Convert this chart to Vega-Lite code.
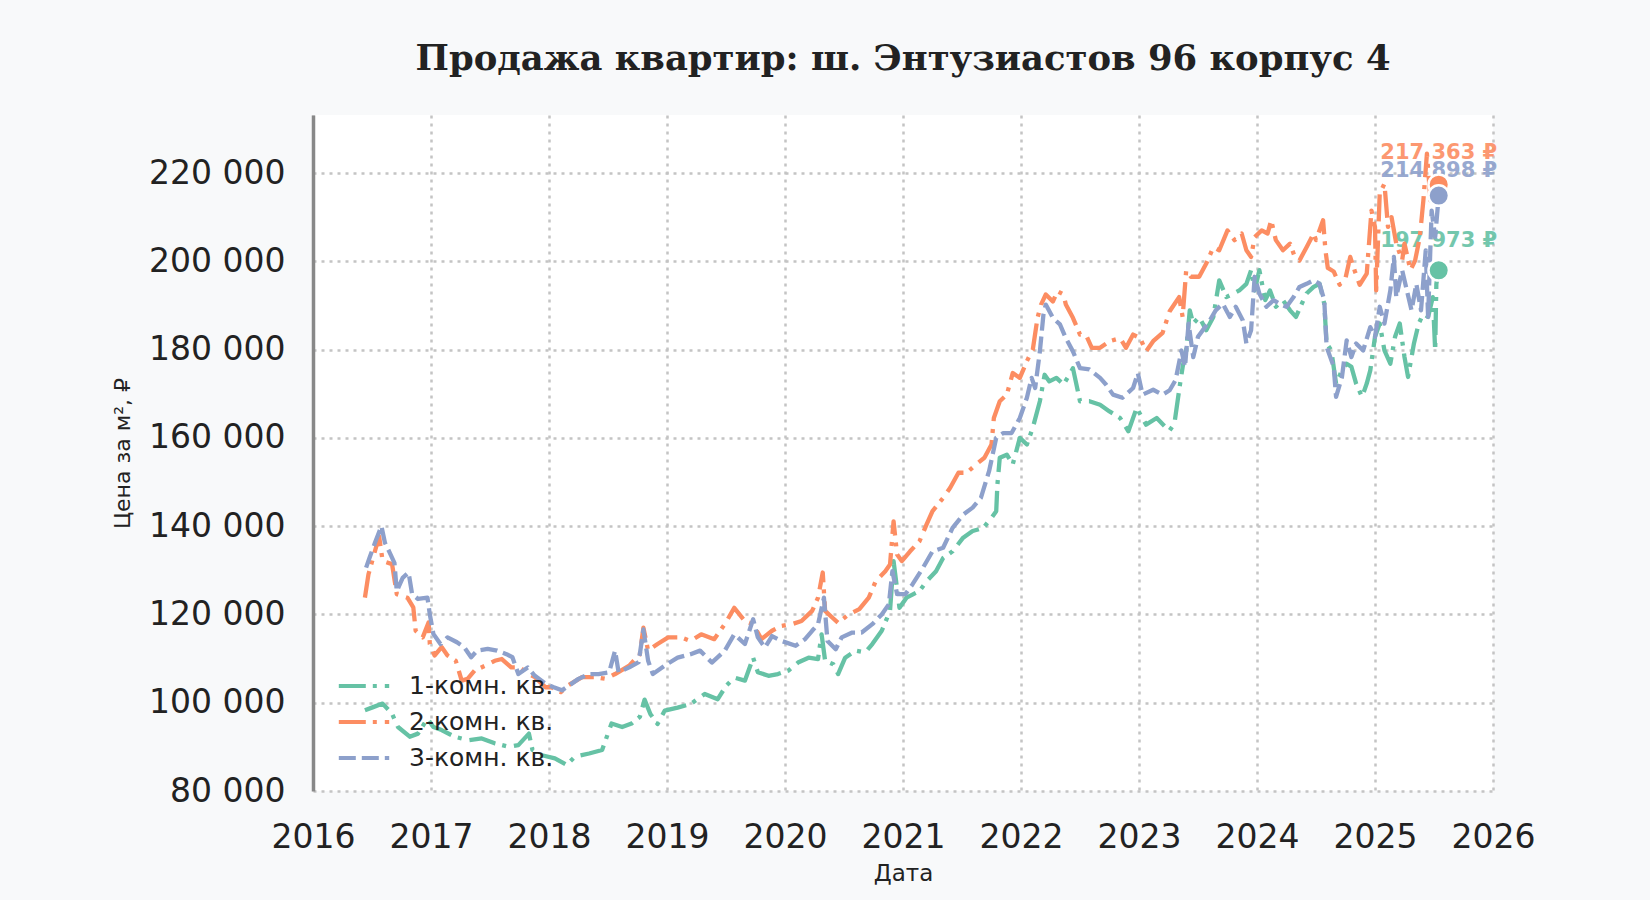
{
"$schema":"https://vega.github.io/schema/vega-lite/v6.json",
"width":1180,"height":676,
"autosize":{"type":"none"},
"padding":{"left":313,"top":115,"right":157,"bottom":109},
"background":"#f8f9fa",
"title":{"text":"Продажа квартир: ш. Энтузиастов 96 корпус 4","font":"DejaVu Serif","fontWeight":"bold","fontSize":35.4,"color":"#222222","anchor":"middle","frame":"group","baseline":"alphabetic","offset":10},
"config":{"font":"DejaVu Sans","view":{"fill":"white","stroke":null},
"legend":{"symbolType":"M-1.4,0H1.4","symbolSize":1296,"symbolStrokeWidth":4,"labelFontSize":25,"labelColor":"#222222","labelFont":"DejaVu Sans","labelOffset":25,"rowPadding":3,"padding":0,"title":null}},
"encoding":{
"x":{"field":"year","type":"quantitative","scale":{"domain":[2016,2026],"nice":false,"zero":false},
"axis":{"values":[2016,2017,2018,2019,2020,2021,2022,2023,2024,2025,2026],"format":"d","title":"Дата","domain":false,"ticks":false,"labelFontSize":33,"labelColor":"#222222","labelPadding":30,"labelFlush":false,"labelOverlap":false,"grid":true,"gridColor":"#c4c4c4","gridDash":[3,5],"gridWidth":2.5,"titleFontSize":23,"titleFontWeight":"normal","titleColor":"#222222","titlePadding":8}},
"y":{"field":"price","type":"quantitative","scale":{"domain":[80000,233150],"nice":false,"zero":false},
"axis":{"values":[80000,100000,120000,140000,160000,180000,200000,220000],"labelExpr":"format(datum.value/1000,'d') + ' 000'","title":"Цена за м², ₽","domain":true,"domainColor":"#888888","domainWidth":3.5,"ticks":false,"labelFontSize":33,"labelColor":"#222222","labelPadding":28,"labelOverlap":false,"grid":true,"gridColor":"#c4c4c4","gridDash":[3,5],"gridWidth":2.5,"titleFontSize":22,"titleFontWeight":"normal","titleColor":"#222222","titlePadding":14}}
},
"resolve":{"scale":{"color":"independent"}},
"datasets":{"ends":[
{"room":"2-комн. кв.","year":2025.54,"price":217363,"label":"217 363 ₽"},
{"room":"3-комн. кв.","year":2025.54,"price":214898,"label":"214 898 ₽"},
{"room":"1-комн. кв.","year":2025.54,"price":197973,"label":"197 973 ₽"}]},
"layer":[
{"data":{"name":"ends"},"transform":[{"filter":"datum.room == '2-комн. кв.'"}],
"mark":{"type":"text","font":"DejaVu Sans","fontWeight":"bold","fontSize":21,"dy":-32,"align":"center","baseline":"middle","opacity":0.9},
"encoding":{"text":{"field":"label"},"color":{"field":"room","type":"nominal","scale":{"domain":["1-комн. кв.","2-комн. кв.","3-комн. кв."],"range":["#66c2a5","#fc8d62","#8da0cb"]},"legend":null}}},
{"data":{"name":"ends"},"transform":[{"filter":"datum.room == '3-комн. кв.'"}],
"mark":{"type":"text","font":"DejaVu Sans","fontWeight":"bold","fontSize":21,"dy":-25,"align":"center","baseline":"middle","opacity":0.9},
"encoding":{"text":{"field":"label"},"color":{"field":"room","type":"nominal","scale":{"domain":["1-комн. кв.","2-комн. кв.","3-комн. кв."],"range":["#66c2a5","#fc8d62","#8da0cb"]},"legend":null}}},
{"data":{"name":"ends"},"transform":[{"filter":"datum.room == '1-комн. кв.'"}],
"mark":{"type":"text","font":"DejaVu Sans","fontWeight":"bold","fontSize":21,"dy":-29,"align":"center","baseline":"middle","opacity":0.9},
"encoding":{"text":{"field":"label"},"color":{"field":"room","type":"nominal","scale":{"domain":["1-комн. кв.","2-комн. кв.","3-комн. кв."],"range":["#66c2a5","#fc8d62","#8da0cb"]},"legend":null}}},
{"data":{"values":[
{"room":"1-комн. кв.","year":2016.44,"price":98300},{"room":"1-комн. кв.","year":2016.51,"price":99000},{"room":"1-комн. кв.","year":2016.59,"price":99800},{"room":"1-комн. кв.","year":2016.67,"price":97500},{"room":"1-комн. кв.","year":2016.72,"price":94500},{"room":"1-комн. кв.","year":2016.82,"price":92300},{"room":"1-комн. кв.","year":2016.89,"price":93000},{"room":"1-комн. кв.","year":2016.97,"price":96400},{"room":"1-комн. кв.","year":2017.02,"price":94500},{"room":"1-комн. кв.","year":2017.09,"price":93800},{"room":"1-комн. кв.","year":2017.2,"price":92300},{"room":"1-комн. кв.","year":2017.32,"price":91500},{"room":"1-комн. кв.","year":2017.43,"price":91900},{"room":"1-комн. кв.","year":2017.54,"price":90800},{"room":"1-комн. кв.","year":2017.66,"price":90000},{"room":"1-комн. кв.","year":2017.74,"price":90400},{"room":"1-комн. кв.","year":2017.83,"price":93000},{"room":"1-комн. кв.","year":2017.86,"price":89300},{"room":"1-комн. кв.","year":2017.94,"price":88100},{"room":"1-комн. кв.","year":2018.05,"price":87400},{"room":"1-комн. кв.","year":2018.15,"price":85900},{"room":"1-комн. кв.","year":2018.22,"price":87800},{"room":"1-комн. кв.","year":2018.34,"price":88500},{"room":"1-комн. кв.","year":2018.45,"price":89300},{"room":"1-комн. кв.","year":2018.53,"price":95300},{"room":"1-комн. кв.","year":2018.62,"price":94500},{"room":"1-комн. кв.","year":2018.7,"price":95300},{"room":"1-комн. кв.","year":2018.77,"price":96800},{"room":"1-комн. кв.","year":2018.81,"price":100700},{"room":"1-комн. кв.","year":2018.86,"price":97400},{"room":"1-комн. кв.","year":2018.92,"price":95200},{"room":"1-комн. кв.","year":2018.98,"price":98200},{"room":"1-комн. кв.","year":2019.09,"price":98900},{"room":"1-комн. кв.","year":2019.2,"price":99700},{"room":"1-комн. кв.","year":2019.32,"price":102000},{"room":"1-комн. кв.","year":2019.43,"price":100800},{"room":"1-комн. кв.","year":2019.5,"price":103800},{"room":"1-комн. кв.","year":2019.57,"price":105700},{"room":"1-комн. кв.","year":2019.66,"price":105000},{"room":"1-комн. кв.","year":2019.73,"price":110200},{"room":"1-комн. кв.","year":2019.77,"price":106900},{"room":"1-комн. кв.","year":2019.86,"price":106100},{"room":"1-комн. кв.","year":2019.94,"price":106500},{"room":"1-комн. кв.","year":2020.03,"price":107300},{"room":"1-комн. кв.","year":2020.11,"price":109100},{"room":"1-комн. кв.","year":2020.2,"price":110200},{"room":"1-комн. кв.","year":2020.28,"price":109900},{"room":"1-комн. кв.","year":2020.31,"price":115500},{"room":"1-комн. кв.","year":2020.34,"price":109500},{"room":"1-комн. кв.","year":2020.41,"price":108700},{"room":"1-комн. кв.","year":2020.45,"price":106500},{"room":"1-комн. кв.","year":2020.51,"price":110200},{"room":"1-комн. кв.","year":2020.6,"price":111800},{"room":"1-комн. кв.","year":2020.68,"price":111400},{"room":"1-комн. кв.","year":2020.74,"price":113300},{"room":"1-комн. кв.","year":2020.82,"price":116300},{"room":"1-комн. кв.","year":2020.89,"price":120800},{"room":"1-комн. кв.","year":2020.92,"price":132100},{"room":"1-комн. кв.","year":2020.97,"price":121500},{"room":"1-комн. кв.","year":2021.03,"price":123800},{"room":"1-комн. кв.","year":2021.08,"price":124500},{"room":"1-комн. кв.","year":2021.14,"price":125300},{"room":"1-комн. кв.","year":2021.2,"price":127500},{"room":"1-комн. кв.","year":2021.28,"price":129800},{"room":"1-комн. кв.","year":2021.34,"price":132800},{"room":"1-комн. кв.","year":2021.42,"price":134300},{"room":"1-комн. кв.","year":2021.51,"price":137400},{"room":"1-комн. кв.","year":2021.59,"price":138900},{"room":"1-комн. кв.","year":2021.68,"price":139600},{"room":"1-комн. кв.","year":2021.75,"price":141900},{"room":"1-комн. кв.","year":2021.79,"price":143400},{"room":"1-комн. кв.","year":2021.8,"price":149400},{"room":"1-комн. кв.","year":2021.82,"price":155500},{"room":"1-комн. кв.","year":2021.88,"price":156200},{"room":"1-комн. кв.","year":2021.93,"price":154000},{"room":"1-комн. кв.","year":2021.99,"price":160000},{"room":"1-комн. кв.","year":2022.05,"price":158500},{"room":"1-комн. кв.","year":2022.1,"price":162300},{"room":"1-комн. кв.","year":2022.16,"price":168300},{"room":"1-комн. кв.","year":2022.2,"price":174300},{"room":"1-комн. кв.","year":2022.24,"price":172800},{"room":"1-комн. кв.","year":2022.3,"price":173600},{"room":"1-комн. кв.","year":2022.36,"price":172100},{"room":"1-комн. кв.","year":2022.41,"price":174300},{"room":"1-комн. кв.","year":2022.44,"price":175800},{"room":"1-комн. кв.","year":2022.5,"price":168300},{"room":"1-комн. кв.","year":2022.58,"price":168300},{"room":"1-комн. кв.","year":2022.67,"price":167500},{"room":"1-комн. кв.","year":2022.75,"price":166000},{"room":"1-комн. кв.","year":2022.84,"price":164500},{"room":"1-комн. кв.","year":2022.91,"price":161500},{"room":"1-комн. кв.","year":2022.98,"price":166800},{"room":"1-комн. кв.","year":2023.06,"price":163000},{"room":"1-комн. кв.","year":2023.15,"price":164500},{"room":"1-комн. кв.","year":2023.23,"price":162300},{"room":"1-комн. кв.","year":2023.26,"price":161700},{"room":"1-комн. кв.","year":2023.3,"price":163200},{"room":"1-комн. кв.","year":2023.34,"price":170800},{"room":"1-комн. кв.","year":2023.37,"price":176100},{"room":"1-комн. кв.","year":2023.4,"price":179800},{"room":"1-комн. кв.","year":2023.43,"price":188900},{"room":"1-комн. кв.","year":2023.46,"price":185900},{"room":"1-комн. кв.","year":2023.51,"price":187400},{"room":"1-комн. кв.","year":2023.57,"price":184400},{"room":"1-комн. кв.","year":2023.63,"price":187400},{"room":"1-комн. кв.","year":2023.68,"price":195700},{"room":"1-комн. кв.","year":2023.74,"price":191900},{"room":"1-комн. кв.","year":2023.8,"price":192700},{"room":"1-комн. кв.","year":2023.85,"price":193400},{"room":"1-комн. кв.","year":2023.91,"price":194900},{"room":"1-комн. кв.","year":2023.95,"price":198000},{"room":"1-комн. кв.","year":2023.98,"price":193400},{"room":"1-комн. кв.","year":2024.02,"price":198000},{"room":"1-комн. кв.","year":2024.07,"price":191200},{"room":"1-комн. кв.","year":2024.11,"price":193400},{"room":"1-комн. кв.","year":2024.16,"price":189700},{"room":"1-комн. кв.","year":2024.22,"price":191200},{"room":"1-комн. кв.","year":2024.28,"price":188900},{"room":"1-комн. кв.","year":2024.33,"price":187400},{"room":"1-комн. кв.","year":2024.38,"price":190400},{"room":"1-комн. кв.","year":2024.42,"price":192700},{"room":"1-комн. кв.","year":2024.48,"price":194200},{"room":"1-комн. кв.","year":2024.53,"price":194900},{"room":"1-комн. кв.","year":2024.57,"price":190400},{"room":"1-комн. кв.","year":2024.59,"price":181400},{"room":"1-комн. кв.","year":2024.63,"price":179800},{"room":"1-комн. кв.","year":2024.67,"price":172300},{"room":"1-комн. кв.","year":2024.72,"price":175300},{"room":"1-комн. кв.","year":2024.76,"price":176800},{"room":"1-комн. кв.","year":2024.8,"price":176100},{"room":"1-комн. кв.","year":2024.84,"price":172300},{"room":"1-комн. кв.","year":2024.89,"price":169300},{"room":"1-комн. кв.","year":2024.93,"price":172300},{"room":"1-комн. кв.","year":2024.96,"price":175300},{"room":"1-комн. кв.","year":2025.0,"price":182900},{"room":"1-комн. кв.","year":2025.04,"price":185900},{"room":"1-комн. кв.","year":2025.08,"price":179800},{"room":"1-комн. кв.","year":2025.13,"price":176800},{"room":"1-комн. кв.","year":2025.17,"price":182900},{"room":"1-комн. кв.","year":2025.21,"price":185900},{"room":"1-комн. кв.","year":2025.25,"price":178300},{"room":"1-комн. кв.","year":2025.28,"price":173800},{"room":"1-комн. кв.","year":2025.33,"price":181400},{"room":"1-комн. кв.","year":2025.37,"price":185900},{"room":"1-комн. кв.","year":2025.41,"price":188100},{"room":"1-комн. кв.","year":2025.45,"price":187400},{"room":"1-комн. кв.","year":2025.49,"price":191900},{"room":"1-комн. кв.","year":2025.51,"price":179800},{"room":"1-комн. кв.","year":2025.52,"price":194900},{"room":"1-комн. кв.","year":2025.54,"price":197973},
{"room":"2-комн. кв.","year":2016.44,"price":123800},{"room":"2-комн. кв.","year":2016.47,"price":129100},{"room":"2-комн. кв.","year":2016.51,"price":132900},{"room":"2-комн. кв.","year":2016.56,"price":137700},{"room":"2-комн. кв.","year":2016.59,"price":132100},{"room":"2-комн. кв.","year":2016.67,"price":131400},{"room":"2-комн. кв.","year":2016.71,"price":124600},{"room":"2-комн. кв.","year":2016.8,"price":123800},{"room":"2-комн. кв.","year":2016.85,"price":121600},{"room":"2-комн. кв.","year":2016.87,"price":116300},{"room":"2-комн. кв.","year":2016.93,"price":114800},{"room":"2-комн. кв.","year":2016.98,"price":118200},{"room":"2-комн. кв.","year":2016.99,"price":113300},{"room":"2-комн. кв.","year":2017.03,"price":110700},{"room":"2-комн. кв.","year":2017.09,"price":112600},{"room":"2-комн. кв.","year":2017.14,"price":110700},{"room":"2-комн. кв.","year":2017.21,"price":109500},{"room":"2-комн. кв.","year":2017.26,"price":105000},{"room":"2-комн. кв.","year":2017.31,"price":105400},{"room":"2-комн. кв.","year":2017.37,"price":107300},{"room":"2-комн. кв.","year":2017.46,"price":108400},{"room":"2-комн. кв.","year":2017.54,"price":109500},{"room":"2-комн. кв.","year":2017.6,"price":109900},{"room":"2-комн. кв.","year":2017.68,"price":108000},{"room":"2-комн. кв.","year":2017.75,"price":108000},{"room":"2-комн. кв.","year":2017.83,"price":106500},{"room":"2-комн. кв.","year":2017.88,"price":105800},{"room":"2-комн. кв.","year":2017.97,"price":103500},{"room":"2-комн. кв.","year":2018.02,"price":103500},{"room":"2-комн. кв.","year":2018.1,"price":102400},{"room":"2-комн. кв.","year":2018.16,"price":103900},{"room":"2-комн. кв.","year":2018.28,"price":105800},{"room":"2-комн. кв.","year":2018.39,"price":105800},{"room":"2-комн. кв.","year":2018.48,"price":105400},{"room":"2-комн. кв.","year":2018.56,"price":106500},{"room":"2-комн. кв.","year":2018.68,"price":108400},{"room":"2-комн. кв.","year":2018.77,"price":111000},{"room":"2-комн. кв.","year":2018.8,"price":117000},{"room":"2-комн. кв.","year":2018.84,"price":111800},{"room":"2-комн. кв.","year":2018.92,"price":113300},{"room":"2-комн. кв.","year":2019.01,"price":114800},{"room":"2-комн. кв.","year":2019.12,"price":114800},{"room":"2-комн. кв.","year":2019.2,"price":114000},{"room":"2-комн. кв.","year":2019.29,"price":115500},{"room":"2-комн. кв.","year":2019.4,"price":114400},{"room":"2-комн. кв.","year":2019.49,"price":117800},{"room":"2-комн. кв.","year":2019.57,"price":121500},{"room":"2-комн. кв.","year":2019.66,"price":118500},{"room":"2-комн. кв.","year":2019.73,"price":117800},{"room":"2-комн. кв.","year":2019.8,"price":114400},{"room":"2-комн. кв.","year":2019.89,"price":116300},{"room":"2-комн. кв.","year":2019.97,"price":117400},{"room":"2-комн. кв.","year":2020.06,"price":117800},{"room":"2-комн. кв.","year":2020.14,"price":118500},{"room":"2-комн. кв.","year":2020.23,"price":120800},{"room":"2-комн. кв.","year":2020.28,"price":123800},{"room":"2-комн. кв.","year":2020.32,"price":129500},{"room":"2-комн. кв.","year":2020.34,"price":120800},{"room":"2-комн. кв.","year":2020.4,"price":119300},{"room":"2-комн. кв.","year":2020.45,"price":118100},{"room":"2-комн. кв.","year":2020.54,"price":120000},{"room":"2-комн. кв.","year":2020.63,"price":121200},{"room":"2-комн. кв.","year":2020.71,"price":123800},{"room":"2-комн. кв.","year":2020.77,"price":127600},{"room":"2-комн. кв.","year":2020.85,"price":129800},{"room":"2-комн. кв.","year":2020.89,"price":131300},{"room":"2-комн. кв.","year":2020.92,"price":141100},{"room":"2-комн. кв.","year":2020.95,"price":133600},{"room":"2-комн. кв.","year":2020.99,"price":132100},{"room":"2-комн. кв.","year":2021.06,"price":134300},{"room":"2-комн. кв.","year":2021.14,"price":136600},{"room":"2-комн. кв.","year":2021.2,"price":140400},{"room":"2-комн. кв.","year":2021.25,"price":143400},{"room":"2-комн. кв.","year":2021.34,"price":146400},{"room":"2-комн. кв.","year":2021.4,"price":148700},{"room":"2-комн. кв.","year":2021.47,"price":152100},{"room":"2-комн. кв.","year":2021.54,"price":152100},{"room":"2-комн. кв.","year":2021.62,"price":154000},{"room":"2-комн. кв.","year":2021.69,"price":155500},{"room":"2-комн. кв.","year":2021.75,"price":158500},{"room":"2-комн. кв.","year":2021.77,"price":164500},{"room":"2-комн. кв.","year":2021.82,"price":168300},{"room":"2-комн. кв.","year":2021.88,"price":169800},{"room":"2-комн. кв.","year":2021.93,"price":174700},{"room":"2-комн. кв.","year":2021.99,"price":173600},{"room":"2-комн. кв.","year":2022.05,"price":177400},{"room":"2-комн. кв.","year":2022.1,"price":180000},{"room":"2-комн. кв.","year":2022.14,"price":187200},{"room":"2-комн. кв.","year":2022.17,"price":190200},{"room":"2-комн. кв.","year":2022.21,"price":192500},{"room":"2-комн. кв.","year":2022.27,"price":190900},{"room":"2-комн. кв.","year":2022.31,"price":193200},{"room":"2-комн. кв.","year":2022.36,"price":192500},{"room":"2-комн. кв.","year":2022.38,"price":190200},{"room":"2-комн. кв.","year":2022.44,"price":187200},{"room":"2-комн. кв.","year":2022.5,"price":183400},{"room":"2-комн. кв.","year":2022.55,"price":183400},{"room":"2-комн. кв.","year":2022.6,"price":180400},{"room":"2-комн. кв.","year":2022.67,"price":180400},{"room":"2-комн. кв.","year":2022.75,"price":181900},{"room":"2-комн. кв.","year":2022.84,"price":182600},{"room":"2-комн. кв.","year":2022.89,"price":180400},{"room":"2-комн. кв.","year":2022.95,"price":183400},{"room":"2-комн. кв.","year":2023.01,"price":182600},{"room":"2-комн. кв.","year":2023.06,"price":179600},{"room":"2-комн. кв.","year":2023.12,"price":181900},{"room":"2-комн. кв.","year":2023.2,"price":183800},{"room":"2-комн. кв.","year":2023.26,"price":188700},{"room":"2-комн. кв.","year":2023.34,"price":191900},{"room":"2-комн. кв.","year":2023.37,"price":187400},{"room":"2-комн. кв.","year":2023.4,"price":198000},{"room":"2-комн. кв.","year":2023.44,"price":196500},{"room":"2-комн. кв.","year":2023.51,"price":196500},{"room":"2-комн. кв.","year":2023.57,"price":199500},{"room":"2-комн. кв.","year":2023.63,"price":203200},{"room":"2-комн. кв.","year":2023.68,"price":202500},{"room":"2-комн. кв.","year":2023.75,"price":207000},{"room":"2-комн. кв.","year":2023.81,"price":204800},{"room":"2-комн. кв.","year":2023.87,"price":206300},{"room":"2-комн. кв.","year":2023.91,"price":202500},{"room":"2-комн. кв.","year":2023.95,"price":201000},{"room":"2-комн. кв.","year":2023.98,"price":205500},{"room":"2-комн. кв.","year":2024.04,"price":207000},{"room":"2-комн. кв.","year":2024.09,"price":206300},{"room":"2-комн. кв.","year":2024.12,"price":209300},{"room":"2-комн. кв.","year":2024.16,"price":204800},{"room":"2-комн. кв.","year":2024.22,"price":202500},{"room":"2-комн. кв.","year":2024.28,"price":204000},{"room":"2-комн. кв.","year":2024.32,"price":201000},{"room":"2-комн. кв.","year":2024.36,"price":200200},{"room":"2-комн. кв.","year":2024.42,"price":203200},{"room":"2-комн. кв.","year":2024.48,"price":206300},{"room":"2-комн. кв.","year":2024.5,"price":204800},{"room":"2-комн. кв.","year":2024.56,"price":209300},{"room":"2-комн. кв.","year":2024.58,"price":202500},{"room":"2-комн. кв.","year":2024.6,"price":198500},{"room":"2-комн. кв.","year":2024.65,"price":197700},{"room":"2-комн. кв.","year":2024.7,"price":194700},{"room":"2-комн. кв.","year":2024.75,"price":196200},{"room":"2-комн. кв.","year":2024.79,"price":201000},{"room":"2-комн. кв.","year":2024.83,"price":197700},{"room":"2-комн. кв.","year":2024.87,"price":194700},{"room":"2-комн. кв.","year":2024.93,"price":197200},{"room":"2-комн. кв.","year":2024.97,"price":211500},{"room":"2-комн. кв.","year":2025.0,"price":207800},{"room":"2-комн. кв.","year":2025.01,"price":193400},{"room":"2-комн. кв.","year":2025.04,"price":215300},{"room":"2-комн. кв.","year":2025.08,"price":217600},{"room":"2-комн. кв.","year":2025.11,"price":207800},{"room":"2-комн. кв.","year":2025.14,"price":210000},{"room":"2-комн. кв.","year":2025.18,"price":204000},{"room":"2-комн. кв.","year":2025.23,"price":200200},{"room":"2-комн. кв.","year":2025.25,"price":204000},{"room":"2-комн. кв.","year":2025.3,"price":198000},{"room":"2-комн. кв.","year":2025.34,"price":200200},{"room":"2-комн. кв.","year":2025.38,"price":205500},{"room":"2-комн. кв.","year":2025.41,"price":213800},{"room":"2-комн. кв.","year":2025.44,"price":224400},{"room":"2-комн. кв.","year":2025.47,"price":213800},{"room":"2-комн. кв.","year":2025.51,"price":219100},{"room":"2-комн. кв.","year":2025.54,"price":217363},
{"room":"3-комн. кв.","year":2016.45,"price":130600},{"room":"3-комн. кв.","year":2016.48,"price":132900},{"room":"3-комн. кв.","year":2016.53,"price":136600},{"room":"3-комн. кв.","year":2016.58,"price":140000},{"room":"3-комн. кв.","year":2016.61,"price":136200},{"room":"3-комн. кв.","year":2016.65,"price":134000},{"room":"3-комн. кв.","year":2016.69,"price":131700},{"room":"3-комн. кв.","year":2016.71,"price":125300},{"room":"3-комн. кв.","year":2016.76,"price":128300},{"room":"3-комн. кв.","year":2016.81,"price":129500},{"room":"3-комн. кв.","year":2016.84,"price":124600},{"room":"3-комн. кв.","year":2016.89,"price":123500},{"room":"3-комн. кв.","year":2016.97,"price":123800},{"room":"3-комн. кв.","year":2016.99,"price":120000},{"room":"3-комн. кв.","year":2017.02,"price":115600},{"room":"3-комн. кв.","year":2017.08,"price":113300},{"room":"3-комн. кв.","year":2017.14,"price":114800},{"room":"3-комн. кв.","year":2017.22,"price":113700},{"room":"3-комн. кв.","year":2017.28,"price":112600},{"room":"3-комн. кв.","year":2017.34,"price":110300},{"room":"3-комн. кв.","year":2017.39,"price":111800},{"room":"3-комн. кв.","year":2017.48,"price":112200},{"room":"3-комн. кв.","year":2017.56,"price":111800},{"room":"3-комн. кв.","year":2017.64,"price":111000},{"room":"3-комн. кв.","year":2017.69,"price":110300},{"room":"3-комн. кв.","year":2017.74,"price":106500},{"room":"3-комн. кв.","year":2017.82,"price":108000},{"room":"3-комн. кв.","year":2017.88,"price":106100},{"room":"3-комн. кв.","year":2017.97,"price":104300},{"room":"3-комн. кв.","year":2018.04,"price":103500},{"room":"3-комн. кв.","year":2018.11,"price":102800},{"room":"3-комн. кв.","year":2018.17,"price":103900},{"room":"3-комн. кв.","year":2018.25,"price":105400},{"room":"3-комн. кв.","year":2018.34,"price":106500},{"room":"3-комн. кв.","year":2018.42,"price":106500},{"room":"3-комн. кв.","year":2018.51,"price":106900},{"room":"3-комн. кв.","year":2018.56,"price":111800},{"room":"3-комн. кв.","year":2018.59,"price":106900},{"room":"3-комн. кв.","year":2018.68,"price":108000},{"room":"3-комн. кв.","year":2018.76,"price":109200},{"room":"3-комн. кв.","year":2018.8,"price":116600},{"room":"3-комн. кв.","year":2018.84,"price":109500},{"room":"3-комн. кв.","year":2018.88,"price":106500},{"room":"3-комн. кв.","year":2018.98,"price":108400},{"room":"3-комн. кв.","year":2019.09,"price":110200},{"room":"3-комн. кв.","year":2019.2,"price":111000},{"room":"3-комн. кв.","year":2019.28,"price":111800},{"room":"3-комн. кв.","year":2019.38,"price":109100},{"room":"3-комн. кв.","year":2019.49,"price":111800},{"room":"3-комн. кв.","year":2019.57,"price":115500},{"room":"3-комн. кв.","year":2019.66,"price":113300},{"room":"3-комн. кв.","year":2019.73,"price":118900},{"room":"3-комн. кв.","year":2019.77,"price":114800},{"room":"3-комн. кв.","year":2019.83,"price":112500},{"room":"3-комн. кв.","year":2019.89,"price":115100},{"room":"3-комн. кв.","year":2019.97,"price":114000},{"room":"3-комн. кв.","year":2020.09,"price":112900},{"room":"3-комн. кв.","year":2020.17,"price":114400},{"room":"3-комн. кв.","year":2020.23,"price":116300},{"room":"3-комн. кв.","year":2020.28,"price":117800},{"room":"3-комн. кв.","year":2020.33,"price":123800},{"room":"3-комн. кв.","year":2020.36,"price":114000},{"room":"3-комн. кв.","year":2020.43,"price":112100},{"room":"3-комн. кв.","year":2020.48,"price":114800},{"room":"3-комн. кв.","year":2020.57,"price":115900},{"room":"3-комн. кв.","year":2020.65,"price":115900},{"room":"3-комн. кв.","year":2020.74,"price":117800},{"room":"3-комн. кв.","year":2020.82,"price":120000},{"room":"3-комн. кв.","year":2020.88,"price":122300},{"room":"3-комн. кв.","year":2020.91,"price":129800},{"room":"3-комн. кв.","year":2020.95,"price":124600},{"room":"3-комн. кв.","year":2021.02,"price":124600},{"room":"3-комн. кв.","year":2021.08,"price":126800},{"room":"3-комн. кв.","year":2021.17,"price":130600},{"room":"3-комн. кв.","year":2021.25,"price":134300},{"room":"3-комн. кв.","year":2021.34,"price":135100},{"room":"3-комн. кв.","year":2021.42,"price":139600},{"room":"3-комн. кв.","year":2021.51,"price":142600},{"room":"3-комн. кв.","year":2021.59,"price":144200},{"room":"3-комн. кв.","year":2021.66,"price":146400},{"room":"3-комн. кв.","year":2021.73,"price":152500},{"room":"3-комн. кв.","year":2021.79,"price":160000},{"room":"3-комн. кв.","year":2021.85,"price":161100},{"room":"3-комн. кв.","year":2021.92,"price":161100},{"room":"3-комн. кв.","year":2021.99,"price":164500},{"room":"3-комн. кв.","year":2022.05,"price":169100},{"room":"3-комн. кв.","year":2022.09,"price":173600},{"room":"3-комн. кв.","year":2022.12,"price":171300},{"room":"3-комн. кв.","year":2022.16,"price":179600},{"room":"3-комн. кв.","year":2022.19,"price":187900},{"room":"3-комн. кв.","year":2022.21,"price":190200},{"room":"3-комн. кв.","year":2022.27,"price":187200},{"room":"3-комн. кв.","year":2022.33,"price":185700},{"room":"3-комн. кв.","year":2022.38,"price":182600},{"room":"3-комн. кв.","year":2022.44,"price":179600},{"room":"3-комн. кв.","year":2022.5,"price":175800},{"room":"3-комн. кв.","year":2022.58,"price":175500},{"room":"3-комн. кв.","year":2022.67,"price":173600},{"room":"3-комн. кв.","year":2022.72,"price":172100},{"room":"3-комн. кв.","year":2022.78,"price":169800},{"room":"3-комн. кв.","year":2022.86,"price":169100},{"room":"3-комн. кв.","year":2022.95,"price":171300},{"room":"3-комн. кв.","year":2022.99,"price":174700},{"room":"3-комн. кв.","year":2023.03,"price":169800},{"room":"3-комн. кв.","year":2023.12,"price":170900},{"room":"3-комн. кв.","year":2023.2,"price":169800},{"room":"3-комн. кв.","year":2023.26,"price":170800},{"room":"3-комн. кв.","year":2023.31,"price":173100},{"room":"3-комн. кв.","year":2023.36,"price":179800},{"room":"3-комн. кв.","year":2023.39,"price":176100},{"room":"3-комн. кв.","year":2023.42,"price":185900},{"room":"3-комн. кв.","year":2023.46,"price":178300},{"room":"3-комн. кв.","year":2023.5,"price":182900},{"room":"3-комн. кв.","year":2023.54,"price":184400},{"room":"3-комн. кв.","year":2023.6,"price":186600},{"room":"3-комн. кв.","year":2023.65,"price":188900},{"room":"3-комн. кв.","year":2023.71,"price":190400},{"room":"3-комн. кв.","year":2023.77,"price":187400},{"room":"3-комн. кв.","year":2023.82,"price":189700},{"room":"3-комн. кв.","year":2023.88,"price":186600},{"room":"3-комн. кв.","year":2023.91,"price":181400},{"room":"3-комн. кв.","year":2023.95,"price":184400},{"room":"3-комн. кв.","year":2023.98,"price":196500},{"room":"3-комн. кв.","year":2024.02,"price":192700},{"room":"3-комн. кв.","year":2024.08,"price":189700},{"room":"3-комн. кв.","year":2024.14,"price":191200},{"room":"3-комн. кв.","year":2024.19,"price":190400},{"room":"3-комн. кв.","year":2024.25,"price":189700},{"room":"3-комн. кв.","year":2024.31,"price":191900},{"room":"3-комн. кв.","year":2024.36,"price":194200},{"room":"3-комн. кв.","year":2024.42,"price":194900},{"room":"3-комн. кв.","year":2024.48,"price":195700},{"room":"3-комн. кв.","year":2024.53,"price":194900},{"room":"3-комн. кв.","year":2024.57,"price":191200},{"room":"3-комн. кв.","year":2024.59,"price":180600},{"room":"3-комн. кв.","year":2024.65,"price":176100},{"room":"3-комн. кв.","year":2024.67,"price":169300},{"room":"3-комн. кв.","year":2024.72,"price":173800},{"room":"3-комн. кв.","year":2024.76,"price":182100},{"room":"3-комн. кв.","year":2024.8,"price":178300},{"room":"3-комн. кв.","year":2024.84,"price":181400},{"room":"3-комн. кв.","year":2024.9,"price":179800},{"room":"3-комн. кв.","year":2024.96,"price":185100},{"room":"3-комн. кв.","year":2025.0,"price":182900},{"room":"3-комн. кв.","year":2025.04,"price":189700},{"room":"3-комн. кв.","year":2025.08,"price":185900},{"room":"3-комн. кв.","year":2025.13,"price":193400},{"room":"3-комн. кв.","year":2025.16,"price":201000},{"room":"3-комн. кв.","year":2025.18,"price":191900},{"room":"3-комн. кв.","year":2025.23,"price":198000},{"room":"3-комн. кв.","year":2025.27,"price":193400},{"room":"3-комн. кв.","year":2025.31,"price":188900},{"room":"3-комн. кв.","year":2025.35,"price":194900},{"room":"3-комн. кв.","year":2025.39,"price":188900},{"room":"3-комн. кв.","year":2025.43,"price":202500},{"room":"3-комн. кв.","year":2025.45,"price":187400},{"room":"3-комн. кв.","year":2025.48,"price":211500},{"room":"3-комн. кв.","year":2025.51,"price":205500},{"room":"3-комн. кв.","year":2025.54,"price":214898}
]},
"mark":{"type":"line","strokeWidth":4.3,"strokeCap":"butt","strokeJoin":"round"},
"encoding":{
"color":{"field":"room","type":"nominal","scale":{"domain":["1-комн. кв.","2-комн. кв.","3-комн. кв."],"range":["#66c2a5","#fc8d62","#8da0cb"]},"legend":null},
"strokeDash":{"field":"room","type":"nominal","scale":{"domain":["1-комн. кв.","2-комн. кв.","3-комн. кв."],"range":[[27,7,4,8],[27,7,4,8],[17,6]]},"legend":{"orient":"none","legendX":31,"legendY":551,"encode":{"symbols":{"update":{"stroke":{"signal":"datum.value === '1-комн. кв.' ? '#66c2a5' : datum.value === '2-комн. кв.' ? '#fc8d62' : '#8da0cb'"},"strokeWidth":{"value":4}}}}}}}},
{"data":{"name":"ends"},
"mark":{"type":"point","filled":true,"size":420,"strokeWidth":2.5,"opacity":1},
"encoding":{"color":{"field":"room","type":"nominal","scale":{"domain":["1-комн. кв.","2-комн. кв.","3-комн. кв."],"range":["#66c2a5","#fc8d62","#8da0cb"]},"legend":null},"stroke":{"value":"white"}}}
]
}
